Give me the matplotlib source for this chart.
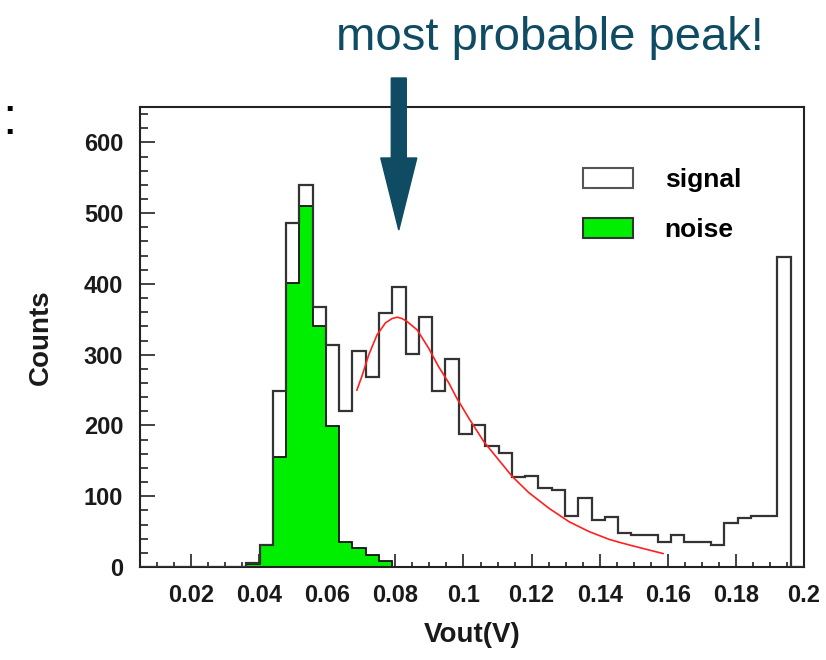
import numpy as np
import matplotlib
matplotlib.use("Agg")
import matplotlib.pyplot as plt
from matplotlib.patches import Patch, FancyArrow
from matplotlib.ticker import MultipleLocator

# histogram binning (50 bins of width 0.0039 starting at 0.005)
bin_lo = 0.005
bin_width = 0.0039
n_bins = 50

signal_counts = [0, 0, 0, 0, 0, 0, 0, 0,
                 5, 31, 248, 486, 540, 367, 314, 220, 305, 268,
                 359, 396, 301, 353, 249, 294, 188, 200, 171, 161,
                 127, 129, 111, 109, 72, 97, 67, 71, 48, 45,
                 45, 36, 45, 36, 36, 31, 62, 69, 72, 72,
                 438, 0]
noise_counts = [0, 0, 0, 0, 0, 0, 0, 0,
                4, 31, 156, 401, 510, 340, 199, 36, 27, 17,
                8, 0, 0, 0, 0, 0, 0, 0, 0, 0,
                0, 0, 0, 0, 0, 0, 0, 0, 0, 0,
                0, 0, 0, 0, 0, 0, 0, 0, 0, 0,
                0, 0]

# fitted curve, points
fit_x = [0.0687, 0.0702, 0.0722, 0.0746, 0.0771, 0.0790, 0.0805, 0.0820,
         0.0834, 0.0864, 0.0898, 0.0927, 0.0957, 0.0981, 0.1016, 0.1060,
         0.1104, 0.1143, 0.1192, 0.1251, 0.1310, 0.1369, 0.1428, 0.1457,
         0.1496, 0.1545, 0.1586]
fit_y = [250, 270, 300, 328, 345, 351, 353, 351,
         347, 335, 309, 283, 260, 238, 210, 177,
         151, 128, 105, 83, 64, 50, 39, 35,
         30, 24, 19]

peak_x = 0.081
x_ticks = [0.02, 0.04, 0.06, 0.08, 0.1, 0.12, 0.14, 0.16, 0.18, 0.2]
x_tick_labels = ["0.02", "0.04", "0.06", "0.08", "0.1", "0.12", "0.14",
                 "0.16", "0.18", "0.2"]

FONT = "Liberation Sans"
TEAL = "#0f4c64"

edges = bin_lo + bin_width * np.arange(n_bins + 1)

fig = plt.figure(figsize=(8.26, 6.6), dpi=100)
ax = fig.add_axes([140 / 826, 93 / 660, 664 / 826, 460 / 660])

ax.stairs(noise_counts, edges, fill=True, facecolor="#00ee00",
          edgecolor="#111111", linewidth=1.3, zorder=2)
ax.stairs(signal_counts, edges, color="#333333", linewidth=1.6, zorder=3)
ax.plot(fit_x, fit_y, color="#ff2020", linewidth=1.2, zorder=4)

ax.set_xlim(bin_lo, 0.2)
ax.set_ylim(0, 650)

ax.set_xticks(x_ticks)
ax.set_xticklabels(x_tick_labels)
ax.xaxis.set_minor_locator(MultipleLocator(0.005))
ax.yaxis.set_major_locator(MultipleLocator(100))
ax.yaxis.set_minor_locator(MultipleLocator(20))

ax.tick_params(which="both", direction="in", top=False, right=False,
               color="#222222", width=1.2)
ax.tick_params(axis="x", which="major", length=9.5, pad=12)
ax.tick_params(axis="x", which="minor", length=3.6)
ax.tick_params(axis="y", which="major", length=10.5, pad=12)
ax.tick_params(axis="y", which="minor", length=5.5)

for lab in ax.get_xticklabels() + ax.get_yticklabels():
    lab.set_fontfamily(FONT)
    lab.set_fontweight("bold")
    lab.set_fontsize(17)
    lab.set_color("#1a1a1a")

for sp in ax.spines.values():
    sp.set_linewidth(1.5)
    sp.set_color("#222222")

ax.set_xlabel("Vout(V)", fontsize=20, fontweight="bold", family=FONT,
              va="center", color="#1a1a1a")
ax.xaxis.set_label_coords(0.5, -0.148)
ax.set_ylabel("Counts", fontsize=20, fontweight="bold", family=FONT,
              va="center", color="#1a1a1a")
ax.yaxis.set_label_coords(-0.149, 0.5)

handles = [Patch(facecolor="white", edgecolor="#555555", linewidth=1.5),
           Patch(facecolor="#00ee00", edgecolor="#333333", linewidth=1.5)]
ax.legend(handles, ["signal", "noise"], loc="upper left",
          bbox_to_anchor=(0.667, 0.868), frameon=False, borderpad=0,
          borderaxespad=0, handlelength=1.9, handleheight=0.8,
          handletextpad=1.2, labelspacing=0.98,
          prop={"family": FONT, "weight": "bold", "size": 19})

# annotation above the plot
fig.text(550 / 826, 1 - 50 / 660, "most probable peak!", ha="center",
         va="baseline", fontsize=34, family=FONT, color=TEAL)

fig.canvas.draw()
px = ax.transData.transform((peak_x, 0))[0]
xf = fig.transFigure.inverted().transform((px, 0))[0]
arrow = FancyArrow(xf, 1 - 78 / 660, 0, -(230 - 78) / 660,
                   width=15 / 826, head_width=36 / 826,
                   head_length=72 / 660, length_includes_head=True,
                   color=TEAL, transform=fig.transFigure)
fig.add_artist(arrow)

# trailing colon of the slide text at the left edge
fig.text(16.6 / 826, 1 - 134.5 / 660, ":", ha="right", va="baseline",
         fontsize=37, family=FONT, color="black")

fig.savefig("out.png", dpi=100)
